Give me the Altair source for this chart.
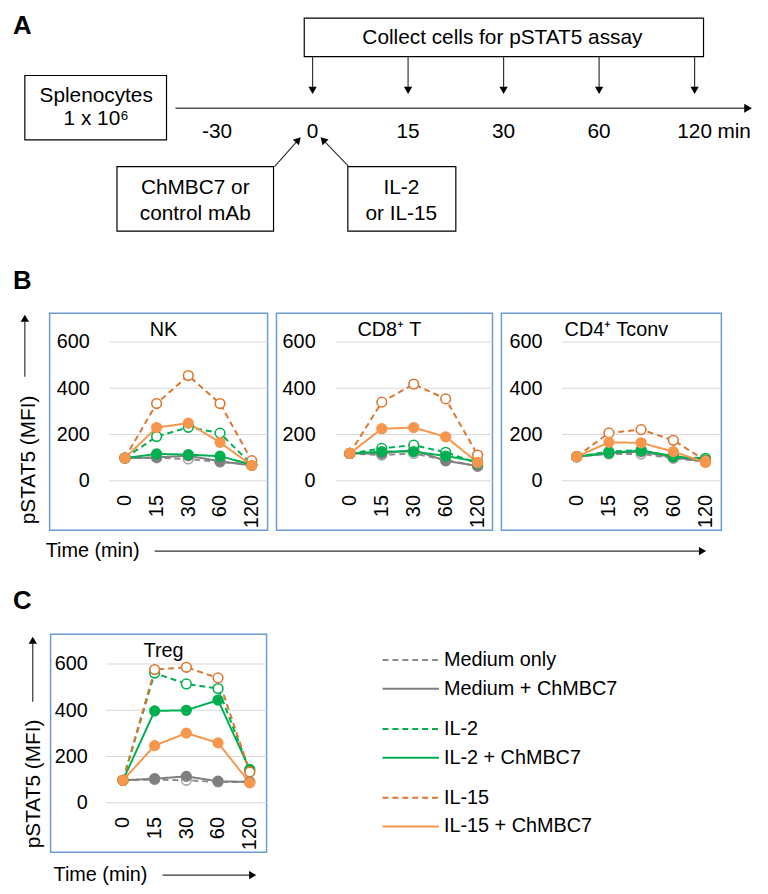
import altair as alt
import pandas as pd

FONT = "Liberation Sans"
BLUE = "#6C9BD2"

# ---------------- data ----------------
times = ["0", "15", "30", "60", "120"]
series = ["Medium only", "Medium + ChMBC7", "IL-2", "IL-2 + ChMBC7", "IL-15", "IL-15 + ChMBC7"]
y_ticks = [0, 200, 400, 600]

nk_medium = [98, 99, 94, 81, 70]
nk_medium_ch = [98, 101, 108, 84, 66]
nk_il2 = [98, 191, 231, 206, 70]
nk_il2_ch = [98, 116, 113, 106, 70]
nk_il15 = [98, 334, 455, 334, 87]
nk_il15_ch = [98, 230, 249, 166, 66]

cd8_medium = [118, 111, 118, 90, 62]
cd8_medium_ch = [118, 118, 133, 86, 64]
cd8_il2 = [118, 140, 154, 123, 76]
cd8_il2_ch = [118, 126, 126, 107, 83]
cd8_il15 = [118, 340, 418, 354, 111]
cd8_il15_ch = [118, 225, 230, 190, 79]

cd4_medium = [104, 116, 116, 97, 83]
cd4_medium_ch = [104, 120, 126, 101, 83]
cd4_il2 = [104, 126, 133, 104, 97]
cd4_il2_ch = [104, 121, 130, 107, 90]
cd4_il15 = [104, 207, 221, 175, 87]
cd4_il15_ch = [104, 166, 164, 126, 79]

treg_medium = [97, 100, 97, 90, 90]
treg_medium_ch = [97, 104, 114, 93, 90]
treg_il2 = [97, 561, 514, 494, 140]
treg_il2_ch = [97, 397, 400, 444, 144]
treg_il15 = [97, 576, 586, 540, 133]
treg_il15_ch = [97, 247, 301, 259, 86]

timeline_labels = ["-30", "0", "15", "30", "60", "120"]
collect_labels = ["0", "15", "30", "60", "120"]
legend_group = [0, 0, 1, 1, 2, 2]

# ---------------- styles ----------------
line_colors = ["#8C8C8C", "#7F7F7F", "#00B050", "#00B050", "#DC7630", "#F7964D"]
point_stroke = ["#A6A6A6", "#7F7F7F", "#00B050", "#00B050", "#DC7630", "#F7964D"]
point_fill = ["white", "#7F7F7F", "white", "#00B050", "white", "#F7964D"]
dashes = [[6, 4], [1, 0], [6, 4], [1, 0], [6, 4], [1, 0]]
legend_colors = ["#404040", "#404040", "#00B050", "#00B050", "#DC7630", "#F7964D"]

ONE = alt.Data(values=[{}])


def txt(x, y, s, size=21, bold=False, align="center", angle=None, baseline="middle"):
    kw = dict(font=FONT, fontSize=size, align=align, baseline=baseline, color="black")
    if bold:
        kw["fontWeight"] = "bold"
    if angle is not None:
        kw["angle"] = angle
    return alt.Chart(ONE).mark_text(**kw).encode(
        x=alt.value(x), y=alt.value(y), text=alt.value(s))


def box(x, y, x2, y2):
    return alt.Chart(ONE).mark_rect(fill="white", stroke="black", strokeWidth=1.2).encode(
        x=alt.value(x), x2=alt.value(x2), y=alt.value(y), y2=alt.value(y2))


def seg(x, y, x2, y2, color="#333333", w=1.2):
    return alt.Chart(ONE).mark_rule(color=color, strokeWidth=w).encode(
        x=alt.value(x), y=alt.value(y), x2=alt.value(x2), y2=alt.value(y2))


def head(x, y, shape, angle=0, size=70):
    return alt.Chart(ONE).mark_point(shape=shape, filled=True, color="black", size=size,
                                     opacity=1, angle=angle).encode(x=alt.value(x), y=alt.value(y))


# ---------------- panel A (schematic) ----------------
tscale = alt.Scale(type="point", domain=timeline_labels, range=[210, 692], padding=0)
tl_text = alt.Chart(pd.DataFrame({"t": timeline_labels})).mark_text(
    font=FONT, fontSize=21, baseline="middle", color="black").encode(
    x=alt.X("t:N", scale=tscale, sort=timeline_labels, axis=None), y=alt.value(120), text="t:N")
down_rules = alt.Chart(pd.DataFrame({"t": collect_labels})).mark_rule(color="#333333", strokeWidth=1.2).encode(
    x=alt.X("t:N", scale=tscale, sort=timeline_labels, axis=None), y=alt.value(44), y2=alt.value(76))
down_heads = alt.Chart(pd.DataFrame({"t": collect_labels})).mark_point(
    shape="triangle-down", filled=True, color="black", size=70, opacity=1).encode(
    x=alt.X("t:N", scale=tscale, sort=timeline_labels, axis=None), y=alt.value(78))

panel_a = alt.layer(
    txt(4, 21, "A", size=26, bold=True, align="left", baseline="alphabetic"),
    box(298, 5, 701, 44),
    txt(498, 25, "Collect cells for pSTAT5 assay"),
    down_rules, down_heads,
    box(16, 63, 159, 128),
    txt(88, 84, "Splenocytes"),
    txt(88, 107, "1 x 10\u2076"),
    seg(168, 96, 744, 96, color="#555555", w=1.5),
    head(746, 96, "triangle-right", size=80),
    tl_text,
    txt(715, 120, "min", align="left"),
    box(109, 155, 267, 220),
    txt(188, 177, "ChMBC7 or"),
    txt(188, 203, "control mAb"),
    box(342, 155, 451, 220),
    txt(396, 177, "IL-2"),
    txt(396, 203, "or IL-15"),
    seg(268, 155, 292, 128),
    head(292, 128, "triangle-up", angle=42),
    seg(343, 155, 317, 128),
    head(317, 128, "triangle-up", angle=316),
    txt(4, 270, "B", size=26, bold=True, align="left"),
).properties(width=752, height=301)


# ---------------- panels B and C ----------------
def panel(vals, title, W, H, xr, yr, ylab_edge, grid_start, xlab_top):
    rows = []
    for s, v in zip(series, vals):
        for i, (t, val) in enumerate(zip(times, v)):
            rows.append({"series": s, "time": t, "ti": i, "value": val})
    df = pd.DataFrame(rows)
    x = alt.X("time:N", sort=times,
              scale=alt.Scale(type="point", domain=times, range=xr, padding=0),
              axis=alt.Axis(title=None, labelAngle=270, labelFontSize=20, labelColor="black",
                            ticks=False, tickSize=0, domain=False, grid=False, labelPadding=2,
                            labelOverlap=False, offset=xlab_top - H - 2))
    y = alt.Y("value:Q",
              scale=alt.Scale(domain=[0, 600], range=yr, nice=False),
              axis=alt.Axis(title=None, values=y_ticks, labelFontSize=20, labelColor="black",
                            ticks=False, tickSize=0, domain=False, grid=False, labelPadding=0,
                            labelOverlap=False, offset=-ylab_edge))
    grid = alt.Chart(pd.DataFrame({"value": y_ticks})).mark_rule(color="#D9D9D9", strokeWidth=1).encode(
        x=alt.value(grid_start), x2=alt.value(W), y=y)
    lines = alt.Chart(df).mark_line(strokeWidth=2).encode(
        x=x, y=y, order=alt.Order("ti:Q"),
        color=alt.Color("series:N", scale=alt.Scale(domain=series, range=line_colors), legend=None),
        strokeDash=alt.StrokeDash("series:N", scale=alt.Scale(domain=series, range=dashes), legend=None))
    pts = alt.Chart(df).mark_point(shape="circle", size=95, strokeWidth=1.6, opacity=1).encode(
        x=x, y=y,
        stroke=alt.Stroke("series:N", scale=alt.Scale(domain=series, range=point_stroke), legend=None),
        fill=alt.Fill("series:N", scale=alt.Scale(domain=series, range=point_fill), legend=None))
    ttl = alt.Chart(ONE).mark_text(font=FONT, fontSize=20, baseline="middle", color="black").encode(
        x=alt.value(W / 2 + 5), y=alt.value(17), text=alt.value(title))
    return alt.layer(grid, lines, pts, ttl).properties(
        width=W, height=H, view=alt.ViewBackground(stroke=BLUE, strokeWidth=1.5))


nk = panel([nk_medium, nk_medium_ch, nk_il2, nk_il2_ch, nk_il15, nk_il15_ch],
           "NK", 220, 219, [76, 204], [169, 29], 40, 60, 183)
cd8 = panel([cd8_medium, cd8_medium_ch, cd8_il2, cd8_il2_ch, cd8_il15, cd8_il15_ch],
            "CD8\u207a T", 218, 219, [74, 203], [169, 29], 39, 60, 183)
cd4 = panel([cd4_medium, cd4_medium_ch, cd4_il2, cd4_il2_ch, cd4_il15, cd4_il15_ch],
            "CD4\u207a Tconv", 222, 219, [76, 206], [169, 29], 41, 61, 183)
treg = panel([treg_medium, treg_medium_ch, treg_il2, treg_il2_ch, treg_il15, treg_il15_ch],
             "Treg", 218, 220, [73, 201], [170, 30], 37, 56, 184)

ylab_b = alt.layer(
    seg(16, 8, 16, 64, color="#333333", w=1.2),
    head(16, 5, "triangle-up"),
    txt(20, 148, "pSTAT5 (MFI)", size=21, angle=270),
).properties(width=39, height=219)

ylab_c = alt.layer(
    seg(24, 9, 24, 68, color="#333333", w=1.2),
    head(24, 6, "triangle-up"),
    txt(25, 151, "pSTAT5 (MFI)", size=21, angle=270),
).properties(width=40, height=220)

time_b = alt.layer(
    txt(37, 19, "Time (min)", size=20, align="left"),
    seg(147, 19, 698, 19, color="#333333", w=1.2),
    head(700, 19, "triangle-right"),
    txt(4, 69, "C", size=26, bold=True, align="left"),
).properties(width=752, height=101)

time_c = alt.layer(
    txt(45, 21, "Time (min)", size=20, align="left"),
    seg(155, 21, 244, 21, color="#333333", w=1.2),
    head(246, 21, "triangle-right"),
).properties(width=300, height=37)

# ---------------- legend ----------------
leg_df = pd.DataFrame({"label": series,
                       "slot": [i + 0.4 * g for i, g in enumerate(legend_group)]})
leg_y = alt.Y("slot:Q", scale=alt.Scale(domain=[0, 5.8], range=[26, 194]), axis=None)
leg_lines = alt.Chart(leg_df).mark_rule(strokeWidth=2).encode(
    x=alt.value(114), x2=alt.value(171), y=leg_y,
    color=alt.Color("label:N", scale=alt.Scale(domain=series, range=legend_colors), legend=None),
    strokeDash=alt.StrokeDash("label:N", scale=alt.Scale(domain=series, range=dashes), legend=None))
leg_text = alt.Chart(leg_df).mark_text(font=FONT, fontSize=20, align="left", baseline="middle",
                                       color="black").encode(
    x=alt.value(176), y=leg_y, text="label:N")
legend = alt.layer(leg_lines, leg_text).properties(width=494, height=220)

row_b = alt.hconcat(ylab_b, alt.hconcat(nk, cd8, cd4, spacing=6), spacing=0)
row_c = alt.hconcat(ylab_c, treg, legend, spacing=0)

chart = alt.vconcat(panel_a, row_b, time_b, row_c, time_c, spacing=0).properties(
    padding={"left": 0, "top": 0, "right": 0, "bottom": 0}, background="white"
).configure_view(stroke="transparent").configure_axis(labelFont=FONT)

chart.save("out.html", embed_options={"renderer": "svg", "actions": False})
